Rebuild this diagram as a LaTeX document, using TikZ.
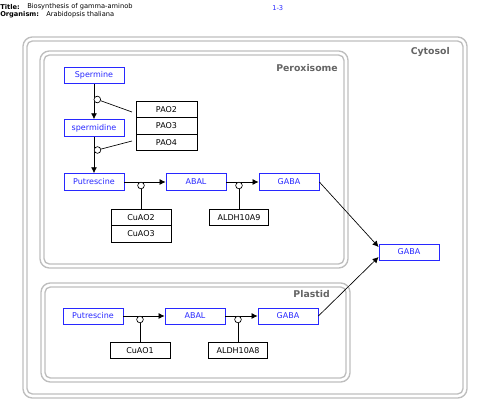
\documentclass[tikz,border=0pt]{standalone}
\usepackage{fontspec}
\setmainfont{DejaVu Sans}
\usetikzlibrary{arrows.meta}
\definecolor{cpdblue}{RGB}{40,40,255}
\definecolor{boxgray}{RGB}{190,190,190}
\definecolor{labgray}{RGB}{100,100,100}
\begin{document}
\begin{tikzpicture}[x=0.75pt,y=-0.75pt,
 cpd/.style={draw=cpdblue, text=cpdblue, line width=0.6pt, minimum width=45pt, minimum height=12.5pt, inner sep=0pt, font=\fontsize{6}{7}\selectfont},
 enz/.style={draw=black, line width=0.5pt, minimum width=45pt, minimum height=12.3pt, inner sep=0pt, font=\fontsize{6}{7}\selectfont},
 modc/.style={circle, draw=black, fill=white, line width=0.5pt, minimum size=5pt, inner sep=0pt},
 rxn/.style={line width=0.6pt, -{Latex[length=4.5pt,width=4.5pt]}},
 link/.style={line width=0.5pt},
 comp/.style={draw=boxgray, line width=1pt},
 complab/.style={text=labgray, font=\bfseries\fontsize{7}{8}\selectfont, anchor=east, inner sep=0pt},
 ttl/.style={anchor=west, inner sep=0pt, font=\fontsize{5}{6}\selectfont}
]
\useasboundingbox (0,0) rectangle (480,410);

% title
\node[ttl] (tl) at (0,7) {\textbf{Title:}};
\node[ttl] (tv) at (27,7) {Biosynthesis of gamma-aminob};
\node[ttl] (ol) at (0,15) {\textbf{Organism:}};
\node[ttl] (ov) at (46,15) {Arabidopsis thaliana};
\node[ttl, text=cpdblue] (pg) at (272,8) {1-3};

% compartments
\draw[comp, rounded corners=7pt] (23,37) rectangle (467,398);
\draw[comp, rounded corners=4pt] (27,41) rectangle (463,394);
\draw[comp, rounded corners=7pt] (40,51) rectangle (348,268);
\draw[comp, rounded corners=4pt] (44,55) rectangle (344,264);
\draw[comp, rounded corners=7pt] (41,283) rectangle (350,382);
\draw[comp, rounded corners=4pt] (45,287) rectangle (346,378);
\node[complab] (lcyt) at (450,52) {Cytosol};
\node[complab] (lper) at (338,68) {Peroxisome};
\node[complab] (lpla) at (330,294) {Plastid};

% compounds
\node[cpd] (sp) at (94,75.5) {Spermine};
\node[cpd] (spd) at (94,128) {spermidine};
\node[cpd] (put1) at (94,182) {Putrescine};
\node[cpd] (abal1) at (196,182) {ABAL};
\node[cpd] (gaba1) at (289,182) {GABA};
\node[cpd, minimum height=12pt] (gabac) at (409,252) {GABA};
\node[cpd, minimum height=12pt] (put2) at (93,316) {Putrescine};
\node[cpd, minimum height=12pt] (abal2) at (195,316) {ABAL};
\node[cpd, minimum height=12pt] (gaba2) at (288,316) {GABA};

% enzymes
\node[enz, minimum width=45.75pt] (pao2) at (166.5,109.5) {PAO2};
\node[enz, minimum width=45.75pt, anchor=north] (pao3) at ([yshift=0.5pt]pao2.south) {PAO3};
\node[enz, minimum width=45.75pt, anchor=north] (pao4) at ([yshift=0.5pt]pao3.south) {PAO4};
\node[enz, anchor=north] (cuao2) at (141,209) {CuAO2};
\node[enz, anchor=north] (cuao3) at ([yshift=0.5pt]cuao2.south) {CuAO3};
\node[enz, minimum width=44.5pt, anchor=north] (aldh9) at (239,209) {ALDH10A9};
\node[enz, anchor=north] (cuao1) at (140,342) {CuAO1};
\node[enz, minimum width=44.5pt, anchor=north] (aldh8) at (238,342) {ALDH10A8};

% reactions
\draw[rxn] (sp.south) -- (spd.north);
\draw[rxn] (spd.south) -- (put1.north);
\draw[rxn] (put1.east) -- (abal1.west);
\draw[rxn] (abal1.east) -- (gaba1.west);
\draw[rxn] (put2.east) -- (abal2.west);
\draw[rxn] (abal2.east) -- (gaba2.west);
\draw[rxn, line width=0.5pt] (gaba1.east) -- ([yshift=3.75pt]gabac.west);
\draw[rxn, line width=0.5pt] (gaba2.east) -- ([yshift=-3.75pt]gabac.west);

% modifiers
\node[modc] (m1) at (97.3,99.5) {};
\node[modc] (m2) at (97.5,150) {};
\node[modc] (m3) at (141,185.5) {};
\node[modc] (m4) at (239,185.5) {};
\node[modc] (m5) at (140,319.5) {};
\node[modc] (m6) at (238,319.5) {};
\coordinate (e1) at (132,112);
\coordinate (e2) at (132,141);
\draw[link] (m1) -- (e1);
\draw[link] (m2) -- (e2);
\draw[link] (m3.south) -- (cuao2.north);
\draw[link] (m4.south) -- (aldh9.north);
\draw[link] (m5.south) -- (cuao1.north);
\draw[link] (m6.south) -- (aldh8.north);
\end{tikzpicture}
\end{document}
